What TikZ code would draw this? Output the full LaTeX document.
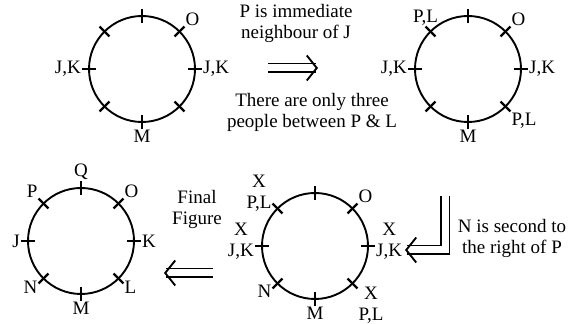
\documentclass[tikz,border=0pt]{standalone}
\usepackage{fontspec}
\setmainfont{Liberation Serif}
\usetikzlibrary{arrows.meta,calc,positioning}

\begin{document}
\begin{tikzpicture}[x=1pt,y=1pt,
  ring/.style={circle,draw,line width=1.9pt,minimum size=106pt,inner sep=0pt,outer sep=0pt},
  lbl/.style={inner sep=1pt,align=center,font=\fontsize{19}{21}\selectfont},
  txt/.style={align=center,inner sep=0pt,font=\fontsize{19}{21}\selectfont},
  dbl/.style={double,double distance=7pt,line width=1.8pt,
    -{Straight Barb[length=10pt,width=25pt,line width=1.9pt]}}]
  \useasboundingbox (0,0) rectangle (571,324);
  % the four seating circles
  \node[ring] (c1) at (142,255) {};
  \node[ring] (c2) at (468,255) {};
  \node[ring] (c3) at (81,83) {};
  \node[ring] (c4) at (315,78) {};
  \foreach \c in {c1,c2,c3,c4}
    \foreach \a in {0,45,...,315}
      \draw[line width=2.4pt] ($(\c.center)+(\a:46)$) -- ($(\c.center)+(\a:60)$);
  % first circle
  \node[lbl,anchor=south west] (c1o) at ($(c1.center)+(45:60)$) {O};
  \node[lbl,anchor=east] (c1l) at ($(c1.center)+(180:60)$) {J,K};
  \node[lbl,anchor=west] (c1r) at ($(c1.center)+(0:60)$) {J,K};
  \node[lbl,anchor=north] (c1m) at ($(c1.center)+(270:60)$) {M};
  % second circle
  \node[lbl,anchor=south] (c2p) at ($(c2.center)+(135:60)$) {P,L};
  \node[lbl,anchor=south west] (c2o) at ($(c2.center)+(45:60)$) {O};
  \node[lbl,anchor=east] (c2l) at ($(c2.center)+(180:60)$) {J,K};
  \node[lbl,anchor=west] (c2r) at ($(c2.center)+(0:60)$) {J,K};
  \node[lbl,anchor=north west] (c2q) at ($(c2.center)+(-45:60)$) {P,L};
  \node[lbl,anchor=north] (c2m) at ($(c2.center)+(270:60)$) {M};
  % final circle
  \node[lbl,anchor=south] (c3q) at ($(c3.center)+(90:60)$) {Q};
  \node[lbl,anchor=south east] (c3p) at ($(c3.center)+(135:60)$) {P};
  \node[lbl,anchor=south west] (c3o) at ($(c3.center)+(45:60)$) {O};
  \node[lbl,anchor=east] (c3j) at ($(c3.center)+(180:60)$) {J};
  \node[lbl,anchor=west] (c3k) at ($(c3.center)+(0:60)$) {K};
  \node[lbl,anchor=east,yshift=-4pt] (c3n) at ($(c3.center)+(225:60)$) {N};
  \node[lbl,anchor=west,yshift=-4pt] (c3l) at ($(c3.center)+(-45:60)$) {L};
  \node[lbl,anchor=north] (c3m) at ($(c3.center)+(270:60)$) {M};
  % third circle
  \node[lbl,anchor=south east,yshift=-9pt] (c4p) at ($(c4.center)+(135:60)$) {X\\P,L};
  \node[lbl,anchor=south west] (c4o) at ($(c4.center)+(45:60)$) {O};
  \node[lbl,anchor=east,yshift=5pt] (c4l) at ($(c4.center)+(180:60)$) {X\\J,K};
  \node[lbl,anchor=west,yshift=5pt] (c4r) at ($(c4.center)+(0:60)$) {X\\J,K};
  \node[lbl,anchor=east,yshift=-3pt] (c4n) at ($(c4.center)+(225:60)$) {N};
  \node[lbl,anchor=north west,yshift=3pt] (c4q) at ($(c4.center)+(-45:60)$) {X\\P,L};
  \node[lbl,anchor=north] (c4m) at ($(c4.center)+(270:60)$) {M};
  % steps
  \coordinate (a1s) at (268,256);
  \coordinate (a1e) at (318,256);
  \draw[dbl] (a1s) -- (a1e);
  \coordinate (a2s) at (213,51);
  \coordinate (a2e) at (164,51);
  \draw[dbl] (a2s) -- (a2e);
  \coordinate (hs) at (445,128);
  \coordinate (he) at (405,74);
  \draw[dbl] (hs) |- (he);
  \node[txt] (t1) at (296,301) {P is immediate\\neighbour of J};
  \node[txt] (t2) at (312,212) {There are only three\\people between P \& L};
  \node[txt] (t3) at (197,115) {Final\\Figure};
  \node[txt] (t4) at (512,86) {N is second to\\the right of P};
\end{tikzpicture}
\end{document}
